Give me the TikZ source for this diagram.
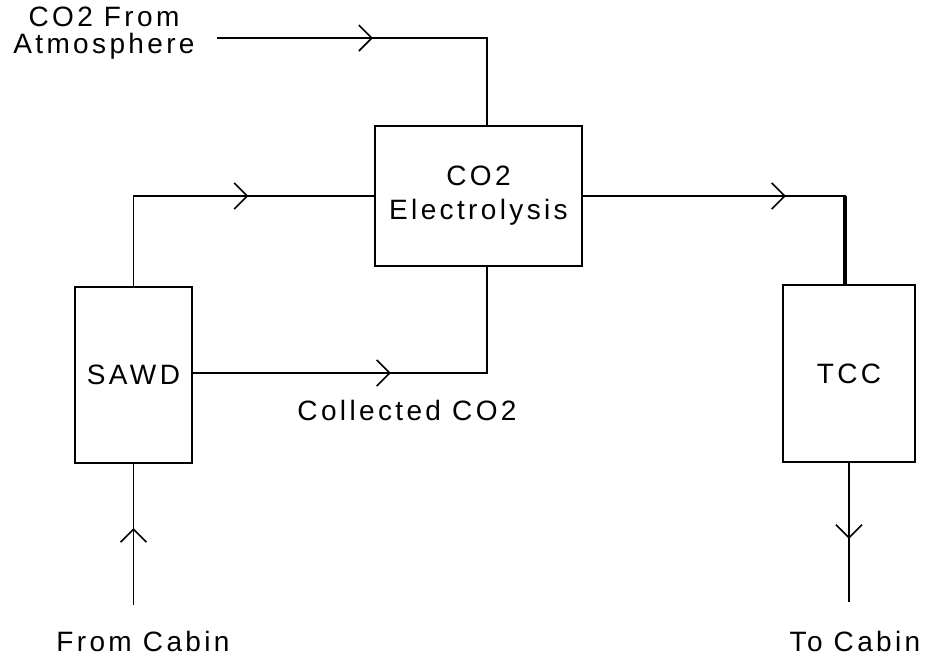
\documentclass[tikz,border=0pt]{standalone}
\usepackage{fontspec}
\setmainfont{Liberation Sans}[LetterSpace=12]
\usetikzlibrary{arrows.meta,decorations.markings,calc}
\begin{document}
\begin{tikzpicture}[x=1pt,y=-1pt,
  every node/.style={font=\fontsize{28}{34}\selectfont},
  blk/.style={draw,line width=1.6pt,rectangle,inner sep=0pt,align=center},
  lbl/.style={align=center,inner sep=0pt},
  flow/.style={line width=1.6pt},
  chev/.style={postaction={decorate,decoration={markings,
    mark=at position #1 with {\arrow{Straight Barb[length=13pt,width=26pt,line width=1.6pt]}}}}}
]
\useasboundingbox (0,0) rectangle (926,657);
% blocks
\node[blk,minimum width=207pt,minimum height=140pt] (elec) at (478.5,196) {CO2\\Electrolysis};
\node[blk,minimum width=117pt,minimum height=176pt] (sawd) at (133.5,375) {SAWD};
\node[blk,minimum width=132pt,minimum height=177pt] (tcc) at (849,373.5) {TCC};
% labels
\node[lbl,font=\fontsize{28}{27}\selectfont] (atmlbl) at (104,33) {CO2 From\\Atmosphere};
\node[lbl] (coll) at (407,410) {Collected CO2};
\node[lbl] (fromcab) at (143,641) {From Cabin};
\node[lbl] (tocab) at (855,641) {To Cabin};
% free ends
\coordinate (atm) at (217,38);
\coordinate (cabin) at (133.5,605);
\coordinate (out) at (849,602);
% connectors
\draw[flow,chev=156pt] (atm) -| ([xshift=8.5pt]elec.north);
\draw[flow,chev=205pt] (sawd.north) |- (elec.west);
\draw[flow,chev=198pt] ([yshift=2pt]sawd.east) -| ([xshift=8.5pt]elec.south);
\draw[flow,chev=203pt] (elec.east) -| ([xshift=-4pt]tcc.north);
\draw[line width=4pt] ([xshift=-4pt]tcc.north |- elec.east) -- ([xshift=-4pt]tcc.north);
\draw[flow,chev=76pt] (tcc.south) -- (out);
\draw[flow,chev=77pt] (cabin) -- (sawd.south);
\end{tikzpicture}
\end{document}
